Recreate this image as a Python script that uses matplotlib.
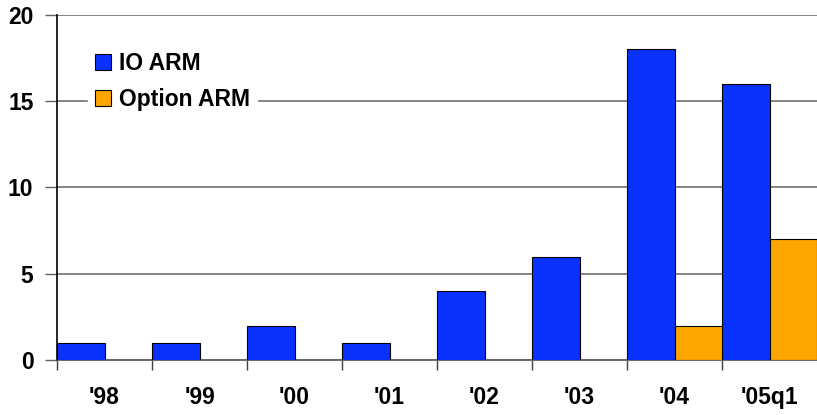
import matplotlib
matplotlib.use("Agg")
import matplotlib.pyplot as plt
import numpy as np

plt.rcParams['font.family'] = ['Liberation Sans', 'DejaVu Sans']

categories = ["'98", "'99", "'00", "'01", "'02", "'03", "'04", "'05q1"]
io_arm = [1, 1, 2, 1, 4, 6, 18, 16]
option_arm = [0, 0, 0, 0, 0, 0, 2, 7]

fig = plt.figure(figsize=(8.17, 4.15), dpi=100)
ax = fig.add_axes([57 / 817, 55 / 415, 760 / 817, 345 / 415])

x = np.arange(len(categories))
ax.bar(x + 0.25, io_arm, width=0.5, color='#0a32ff', edgecolor='black',
       linewidth=0.8, label='IO ARM', zorder=3)
ax.bar(x + 0.75, option_arm, width=0.5, color='#ffa500', edgecolor='black',
       linewidth=0.8, label='Option ARM', zorder=3)

ax.set_xlim(0, len(categories))
ax.set_ylim(0, 20)
ax.set_yticks([0, 5, 10, 15, 20])
ax.set_yticklabels(['0', '5', '10', '15', '20'], fontsize=16.5, fontweight='bold')

ax.set_xticks(x + 0.5)
ax.set_xticklabels(categories, fontsize=16.5, fontweight='bold')
ax.set_xticks(x, minor=True)
ax.tick_params(axis='x', which='major', length=0, pad=19)
ax.tick_params(axis='x', which='minor', length=7, width=1, color='#404040')
ax.tick_params(axis='y', length=9, width=1, color='#606060', pad=8)

for y in [5, 10, 15, 20]:
    ax.axhline(y, color='#707070', linewidth=1.2, zorder=1)

for side in ['top', 'right']:
    ax.spines[side].set_visible(False)
ax.spines['left'].set_color('black')
ax.spines['left'].set_linewidth(1.2)
ax.spines['bottom'].set_color('#505050')
ax.spines['bottom'].set_linewidth(1.2)

leg = ax.legend(loc='upper left', bbox_to_anchor=(0.026, 0.945), frameon=True,
                fancybox=False, framealpha=1, edgecolor='white',
                prop={'size': 16.5, 'weight': 'bold'}, handlelength=0.7,
                handleheight=0.7, handletextpad=0.35, labelspacing=0.55,
                borderpad=0.3)
leg.set_zorder(5)

fig.savefig('out.png', dpi=100)
